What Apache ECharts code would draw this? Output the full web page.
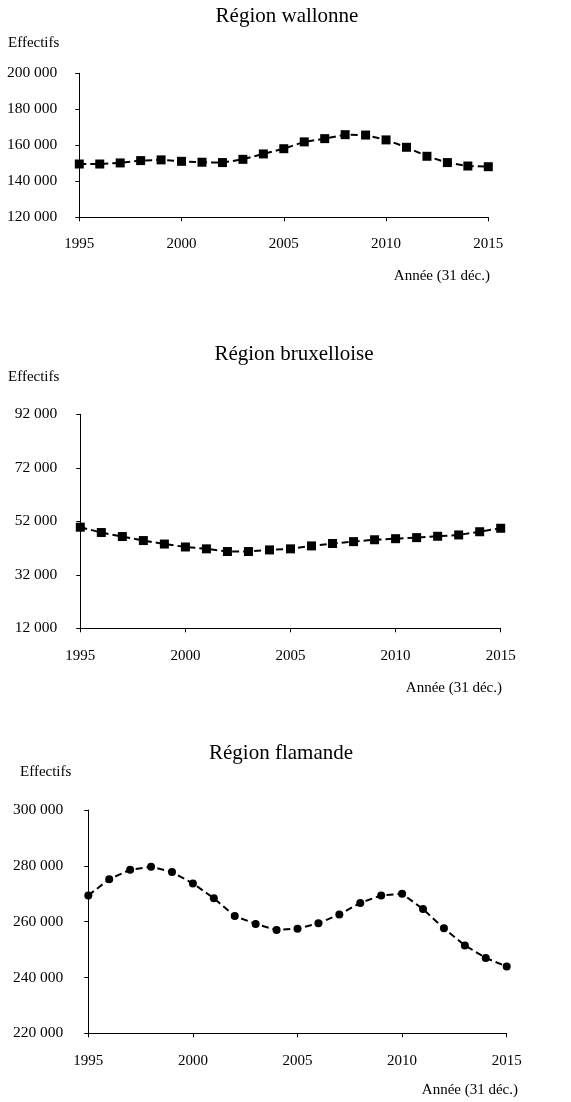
<!DOCTYPE html>
<html>
<head>
<meta charset="utf-8">
<script src="https://cdn.jsdelivr.net/npm/echarts@6/dist/echarts.min.js"></script>
<style>
html,body{margin:0;padding:0;background:#fff;}
#chart{width:571px;height:1102px;}
</style>
</head>
<body>
<div id="chart"></div>
<script>
const years = [1995,1996,1997,1998,1999,2000,2001,2002,2003,2004,2005,2006,2007,2008,2009,2010,2011,2012,2013,2014,2015];
const wallonne = [149600,149600,150200,151500,151900,151100,150600,150400,152200,155200,158100,161900,163700,165900,165700,163000,158900,153900,150400,148500,148100];
const bruxelloise = [49800,47800,46300,44800,43500,42400,41700,40700,40700,41300,41700,42800,43700,44400,45100,45500,45900,46400,46900,48100,49400];
const flamande = [269400,275200,278600,279700,277800,273700,268400,262000,259200,257000,257500,259400,262600,266700,269400,270000,264500,257600,251500,247000,243900];
const titles = ['Région wallonne','Région bruxelloise','Région flamande'];
const yTicksWallonne = [120000,140000,160000,180000,200000];
const yTicksBruxelloise = [12000,32000,52000,72000,92000];
const yTicksFlamande = [220000,240000,260000,280000,300000];
const yLabel = 'Effectifs';
const xLabel = 'Année (31 déc.)';

const FONT = '"Liberation Serif","DejaVu Serif",serif';
const fmt = v => String(v).replace(/\B(?=(\d{3})+(?!\d))/g, ' ');

const panels = [
  {data: wallonne, ticks: yTicksWallonne, symbol: 'rect', size: 9,
   grid: {left: 79.3, top: 73.3, width: 409, height: 144}, ylm: 22, xlm: 19,
   title: [287, 16], ylab: [8, 43], xlab: [490, 276]},
  {data: bruxelloise, ticks: yTicksBruxelloise, symbol: 'rect', size: 9,
   grid: {left: 80.3, top: 414.3, width: 420.4, height: 214}, ylm: 23, xlm: 20,
   title: [294, 354], ylab: [8, 377], xlab: [502, 688]},
  {data: flamande, ticks: yTicksFlamande, symbol: 'circle', size: 8,
   grid: {left: 88.3, top: 810, width: 418.4, height: 223.3}, ylm: 25, xlm: 20,
   title: [281, 753], ylab: [20, 772], xlab: [518, 1090]}
];

const chart = echarts.init(document.getElementById('chart'), null, {renderer: 'canvas'});

const axisLineStyle = {show: true, lineStyle: {color: '#000', width: 1}};
const option = {
  backgroundColor: '#fff',
  animation: false,
  grid: panels.map(p => Object.assign({containLabel: false}, p.grid)),
  xAxis: panels.map((p, i) => ({
    type: 'value', gridIndex: i, min: 1995, max: 2015, interval: 5,
    axisLine: axisLineStyle,
    axisTick: {show: true, length: 4, lineStyle: {color: '#000'}},
    axisLabel: {color: '#000', fontFamily: FONT, fontSize: 15, margin: p.xlm, formatter: v => String(v)},
    splitLine: {show: false}
  })),
  yAxis: panels.map((p, i) => ({
    type: 'value', gridIndex: i, min: p.ticks[0], max: p.ticks[p.ticks.length - 1],
    axisLine: axisLineStyle,
    axisTick: {show: true, length: 4, lineStyle: {color: '#000'}, customValues: p.ticks},
    axisLabel: {color: '#000', fontFamily: FONT, fontSize: 15.5, margin: p.ylm, formatter: fmt, customValues: p.ticks},
    splitLine: {show: false}
  })),
  series: panels.map((p, i) => ({
    type: 'line', xAxisIndex: i, yAxisIndex: i,
    data: years.map((y, k) => [y, p.data[k]]),
    symbol: p.symbol, symbolSize: p.size, showSymbol: true,
    itemStyle: {color: '#000'},
    lineStyle: {color: '#000', width: 2, type: [7, 4]}
  })),
  graphic: panels.flatMap((p, i) => [
    {type: 'text', x: p.title[0], y: p.title[1],
     style: {text: titles[i], font: '21px ' + FONT, fill: '#000', align: 'center', verticalAlign: 'middle', textAlign: 'center', textVerticalAlign: 'middle'}},
    {type: 'text', x: p.ylab[0], y: p.ylab[1],
     style: {text: yLabel, font: '15px ' + FONT, fill: '#000', align: 'left', verticalAlign: 'middle', textAlign: 'left', textVerticalAlign: 'middle'}},
    {type: 'text', x: p.xlab[0], y: p.xlab[1],
     style: {text: xLabel, font: '15px ' + FONT, fill: '#000', align: 'right', verticalAlign: 'middle', textAlign: 'right', textVerticalAlign: 'middle'}}
  ])
};
chart.setOption(option);
</script>
</body>
</html>
